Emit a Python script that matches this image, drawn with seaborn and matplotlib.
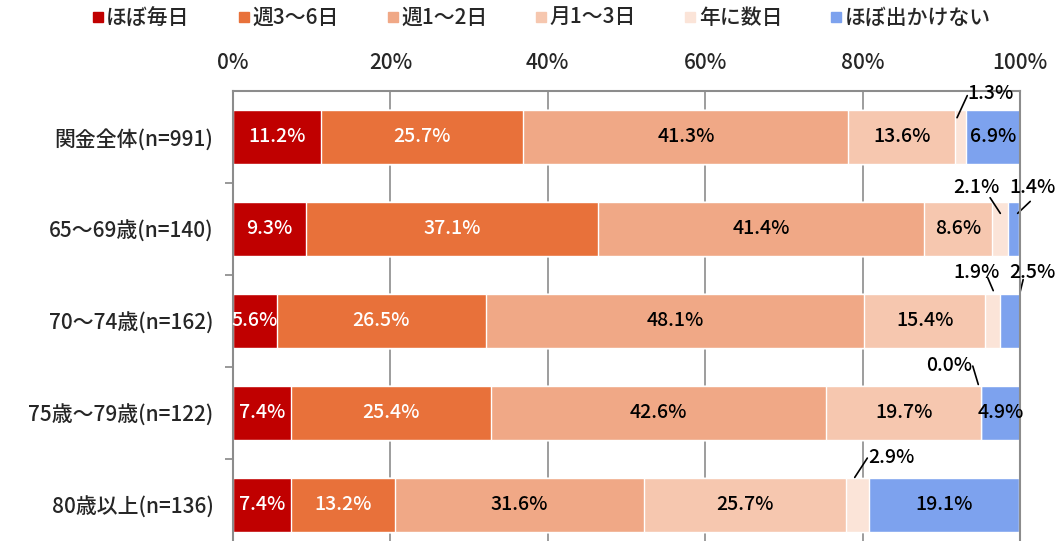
import matplotlib
matplotlib.use("Agg")
import matplotlib.pyplot as plt
from matplotlib.lines import Line2D
import pandas as pd
import seaborn as sns

# --- data ---
groups = ["関金全体(n=991)", "65～69歳(n=140)", "70～74歳(n=162)",
          "75歳～79歳(n=122)", "80歳以上(n=136)"]
categories = ["ほぼ毎日", "週3～6日", "週1～2日", "月1～3日", "年に数日", "ほぼ出かけない"]
daily = [11.2, 9.3, 5.6, 7.4, 7.4]
w3to6 = [25.7, 37.1, 26.5, 25.4, 13.2]
w1to2 = [41.3, 41.4, 48.1, 42.6, 31.6]
m1to3 = [13.6, 8.6, 15.4, 19.7, 25.7]
few_year = [1.3, 2.1, 1.9, 0.0, 2.9]
never = [6.9, 1.4, 2.5, 4.9, 19.1]
xticks = [0, 20, 40, 60, 80, 100]

colors = ["#C00000", "#E8713A", "#F0A886", "#F6C7AF", "#FBE4D8", "#7DA2EE"]
text_colors = ["white", "white", "black", "black", "black", "black"]

# small segments labelled outside: (row, col) -> (text xy, line start, line end)
outside = {
    (0, 4): ((96.3, -0.47), (92.0, -0.21), (93.3, -0.45)),
    (1, 4): ((94.4, 0.55), (97.5, 0.83), (96.2, 0.66)),
    (1, 5): ((101.6, 0.55), (99.7, 0.83), (101.3, 0.70)),
    (2, 4): ((94.5, 1.47), (96.6, 1.67), (95.9, 1.53)),
    (2, 5): ((101.6, 1.47), (100.0, 1.69), (100.4, 1.55)),
    (3, 4): ((91.0, 2.48), (94.7, 2.69), (94.0, 2.49)),
    (4, 4): ((83.7, 3.48), (79.0, 3.70), (80.6, 3.49)),
}

sns.set_theme(style="white")
plt.rcParams["font.family"] = ["Noto Sans CJK JP", "DejaVu Sans"]
plt.rcParams["font.weight"] = "medium"

df = pd.DataFrame({c: v for c, v in zip(categories,
                   [daily, w3to6, w1to2, m1to3, few_year, never])}, index=groups)
cum = df.cumsum(axis=1)

fig = plt.figure(figsize=(10.57, 5.41), dpi=100)
ax = fig.add_axes([233 / 1057, 1 - 91 / 541 - 460 / 541, 787 / 1057, 460 / 541])

# stacked bars: draw cumulative totals from longest to shortest
for cat, col in reversed(list(zip(categories, colors))):
    sns.barplot(x=cum[cat].values, y=groups, orient="h", color=col,
                saturation=1, width=0.58, ax=ax)

for i, g in enumerate(groups):
    for j, cat in enumerate(categories):
        v = df.loc[g, cat]
        lab = f"{v:.1f}%"
        if (i, j) in outside:
            txy, p0, p1 = outside[(i, j)]
            ax.plot([p0[0], p1[0]], [p0[1], p1[1]], color="black", lw=1.2,
                    clip_on=False)
            ax.text(txy[0], txy[1], lab, ha="center", va="center", fontsize=14,
                    color="black", clip_on=False)
        else:
            xc = cum.loc[g, cat] - v / 2
            ax.text(xc, i, lab, ha="center", va="center", fontsize=14,
                    color=text_colors[j])

ax.set_xlim(0, 100)
ax.set_ylim(4.5, -0.5)
ax.set_xlabel("")
ax.set_ylabel("")
ax.xaxis.tick_top()
ax.set_xticks(xticks)
ax.set_xticklabels([f"{t}%" for t in xticks])
ax.tick_params(axis="x", length=0, pad=12, labelsize=15)
ax.tick_params(axis="y", which="major", length=0, pad=14, labelsize=15)
ax.set_yticks([0.5, 1.5, 2.5, 3.5], minor=True)
ax.tick_params(axis="y", which="minor", left=True, length=6, width=1.2,
               color="#888888")
ax.grid(axis="x", color="#8c8c8c", lw=1.2)
ax.set_axisbelow(True)
for s in ["top", "left", "right"]:
    ax.spines[s].set_color("#8c8c8c")
    ax.spines[s].set_linewidth(1.5)
ax.spines["bottom"].set_visible(False)

handles = [Line2D([], [], marker="s", ls="none", color=c, markersize=7)
           for c in colors]
fig.legend(handles, categories, loc="center", bbox_to_anchor=(0.512, 1 - 18 / 541),
           ncol=6, frameon=False, fontsize=15, handlelength=0.6,
           handletextpad=0.1, columnspacing=2.3)

fig.savefig("out.png", dpi=100)
